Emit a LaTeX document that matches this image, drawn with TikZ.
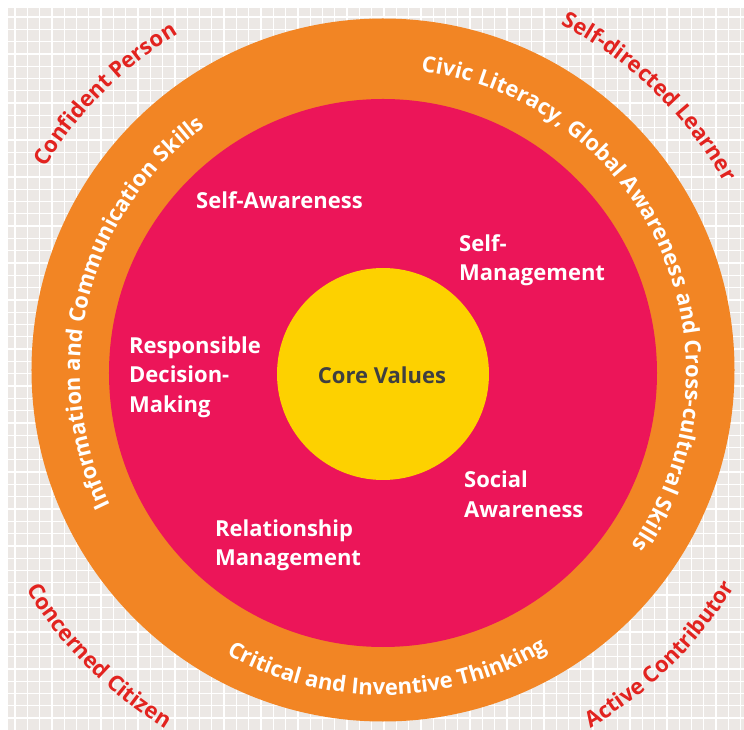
\documentclass[tikz,border=0pt]{standalone}
\usepackage{fontspec}
\setmainfont{Open Sans}
\usetikzlibrary{decorations.text}
\definecolor{ringorange}{HTML}{F28524}
\definecolor{ringpink}{HTML}{EC1559}
\definecolor{coreyellow}{HTML}{FDD100}
\definecolor{coretext}{HTML}{3F3F41}
\definecolor{outerred}{HTML}{E2231F}
\definecolor{gridbg}{HTML}{ECE8E5}
\tikzset{
  gridline/.style={draw=white, line width=1.3pt},
  disc/.style={circle, inner sep=0pt, draw=none},
  innerlabel/.style={text=white, font=\bfseries\fontsize{22}{26}\selectfont, inner sep=0pt, anchor=base west},
  ringtext/.style={decorate, decoration={text along path, text align=center, text={|\color{white}\bfseries\fontsize{22}{26}\selectfont|#1}}},
  redtext/.style={decorate, decoration={text along path, text align=center, text={|\color{outerred}\bfseries\fontsize{22}{26}\selectfont|#1}}}
}
\begin{document}
\begin{tikzpicture}[x=1pt,y=1pt]
\useasboundingbox (-383,-358) rectangle (361,372);
\fill[white] (-383,-358) rectangle (361,372);
\fill[gridbg] (-375,-358) rectangle (361,364);
\foreach \k in {0,...,59} {
  \draw[gridline] ({15+12.3*\k-383},-358) -- ({15+12.3*\k-383},364);
}
\foreach \k in {0,...,58} {
  \draw[gridline] (-375,{372-17-12.3*\k}) -- (361,{372-17-12.3*\k});
}
\node[disc, fill=ringorange, minimum size=703pt] (outerring) at (0,2) {};
\node[disc, fill=ringpink, minimum size=548pt] (innerring) at (0,-1) {};
\node[disc, fill=coreyellow, minimum size=212pt] (core) at (0,-2) {};
\node[anchor=base, inner sep=0pt, text=coretext, font=\bfseries\fontsize{22}{26}\selectfont] (corelabel) at (-1,-12) {Core Values};

\node[innerlabel] (sa) at (-187,163) {Self-Awareness};
\node[innerlabel] (sm1) at (76,120) {Self-};
\node[innerlabel] (sm2) at (76,91) {Management};
\node[innerlabel] (rd1) at (-254,18) {Responsible};
\node[innerlabel] (rd2) at (-254,-11) {Decision-};
\node[innerlabel] (rd3) at (-254,-41) {Making};
\node[innerlabel] (rm1) at (-168,-165) {Relationship};
\node[innerlabel] (rm2) at (-168,-194) {Management};
\node[innerlabel] (soc1) at (81,-116) {Social};
\node[innerlabel] (soc2) at (81,-146) {Awareness};

\path[ringtext={Civic Literacy, Global Awareness and Cross-cultural Skills}] (99:303) arc[start angle=99, end angle=-51, radius=303];
\path[ringtext={Information and Communication Skills}] (241:303) arc[start angle=241, end angle=91, radius=303];
\path[ringtext={Critical and Inventive Thinking}] (200.8:323) arc[start angle=200.8, end angle=340.8, radius=323];

\path[redtext={Confident Person}] (165:395) arc[start angle=165, end angle=105, radius=395];
\path[redtext={Self-directed Learner}] (76:390) arc[start angle=76, end angle=16, radius=390];
\path[redtext={Concerned Citizen}] (195:418) arc[start angle=195, end angle=255, radius=418];
\path[redtext={Active Contributor}] (-75.6:412) arc[start angle=-75.6, end angle=-15.6, radius=412];
\end{tikzpicture}
\end{document}
